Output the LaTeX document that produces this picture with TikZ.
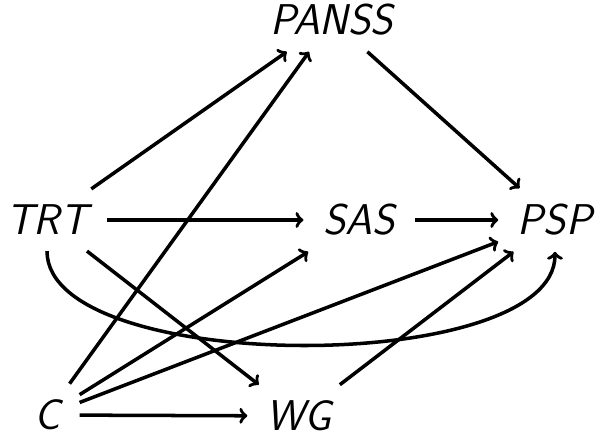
\documentclass[tikz,border=0pt]{standalone}
\usepackage{tikz}
\usepackage{amsmath}
\usetikzlibrary{arrows.meta}

\begin{document}
\begin{tikzpicture}
                    \tikzset{var/.style={inner xsep=11pt, inner ysep=9pt, font=\fontsize{24.5}{28}\selectfont\sffamily\itshape}}
                    \useasboundingbox (0, 0) rectangle (12, 8.8);
                    \node[var] (PANSS) at (6.64, 8.4) {PANSS};
                    \node[var] (TRT) at (0.94, 4.4) {TRT};
                    \node[var] (SAS) at (7.18, 4.4) {SAS};
                    \node[var] (PSP) at (11.1, 4.4) {PSP};
                    \node[var] (C) at (0.94, 0.5) {C};
                    \node[var] (WG) at (5.98, 0.48) {WG};

                    \path[-{Classical TikZ Rightarrow[width=9pt, length=4.5pt]}, line width=2pt]
                        (TRT) edge (PANSS)
                            edge (SAS)
                            edge (WG)
                            edge [out=-90, in=-90, looseness=0.63] (PSP)
                        (PANSS) edge (PSP)
                        (SAS) edge (PSP)
                        (C) edge (PANSS)
                            edge (SAS)
                            edge (PSP)
                            edge (WG)
                        (WG) edge (PSP);
                \end{tikzpicture}
\end{document}
